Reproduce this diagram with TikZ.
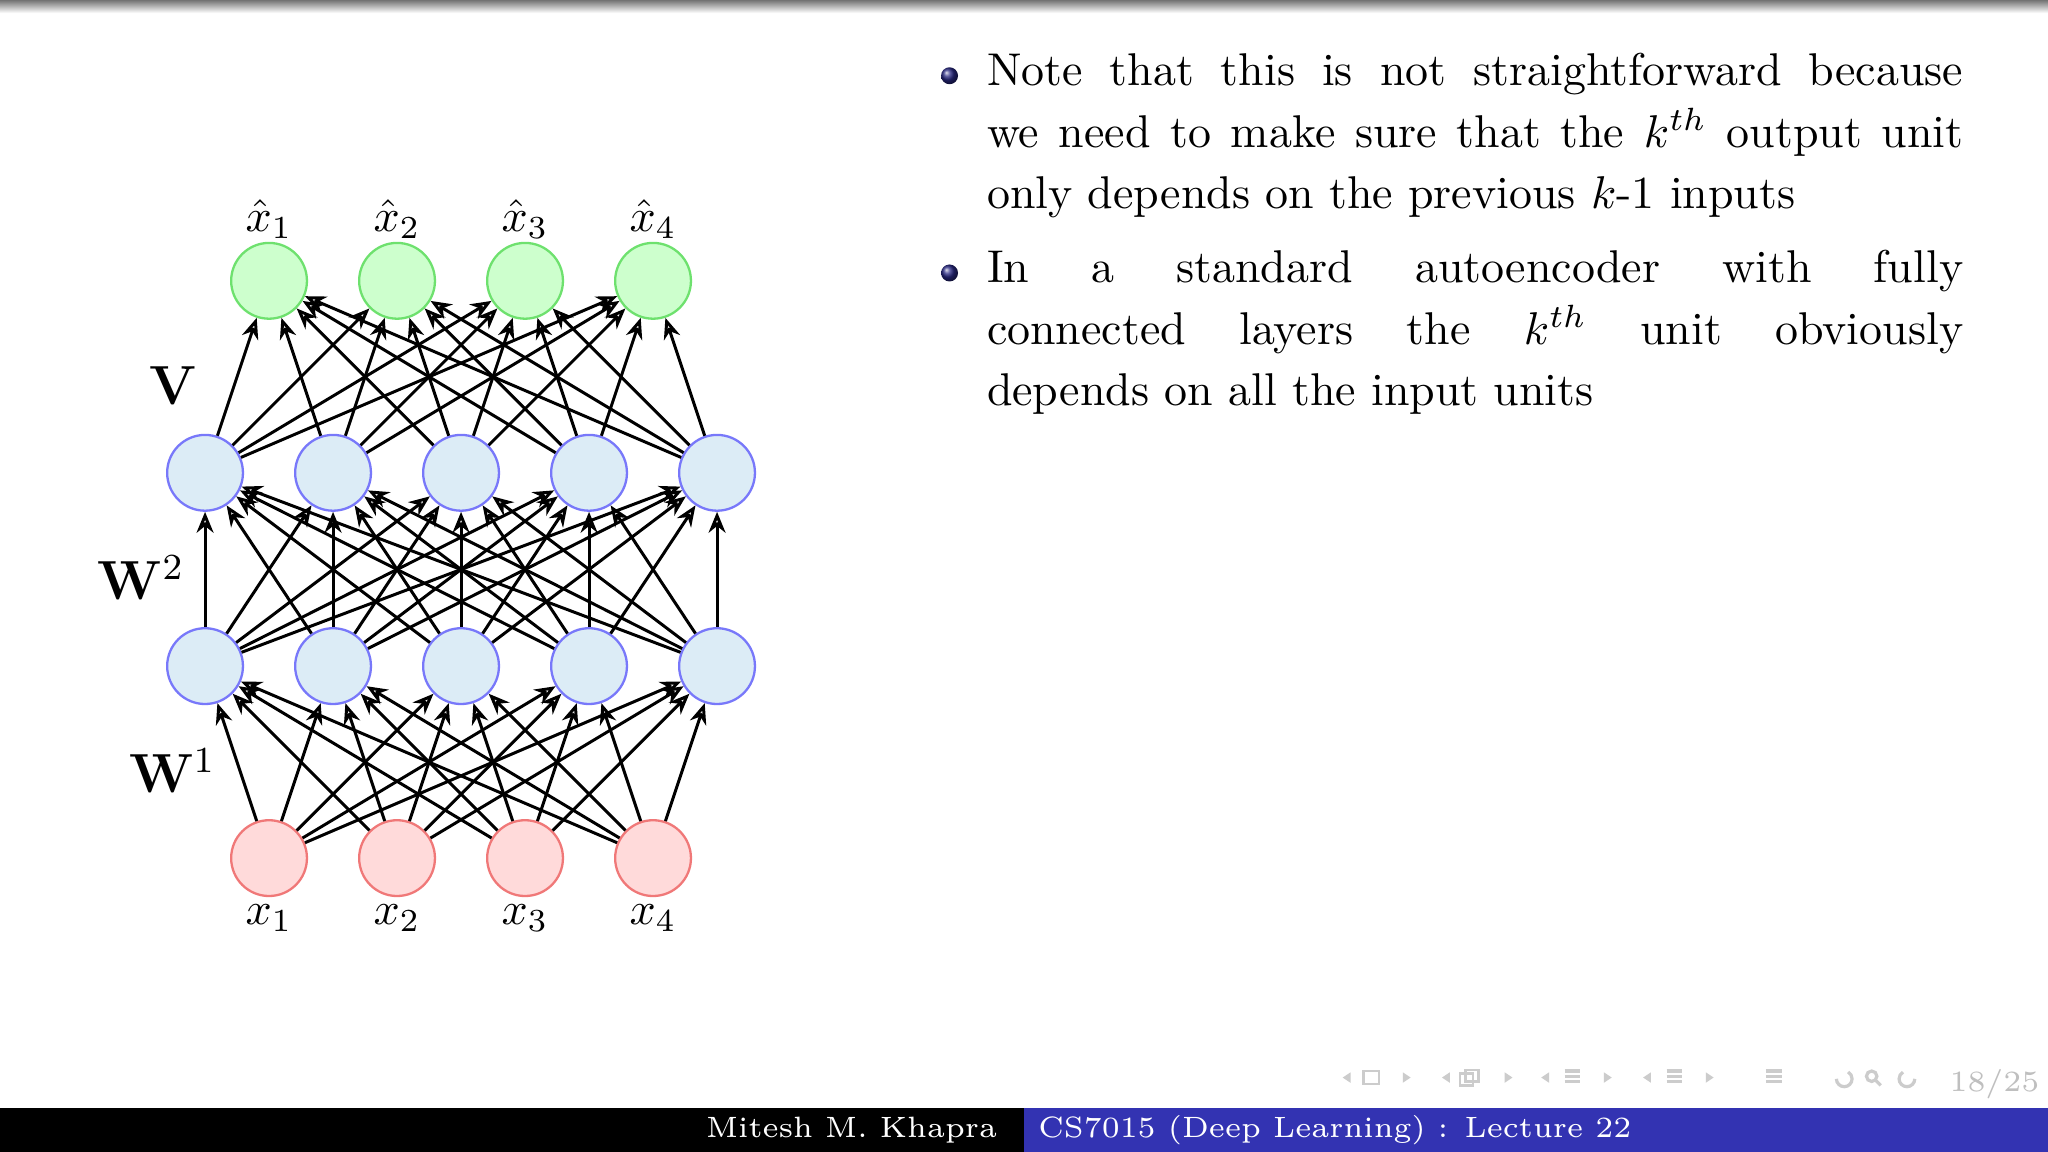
\documentclass[tikz,border=0pt]{standalone}
\usepackage{amsmath,amssymb}
\usetikzlibrary{arrows.meta,shadings}
\definecolor{bluebar}{RGB}{51,51,178}
\definecolor{ballblue}{RGB}{40,40,130}
\tikzset{
 unit/.style={circle,minimum size=0.58cm,inner sep=0pt,line width=0.5pt},
 outu/.style={unit,draw={rgb,255:red,110;green,225;blue,110},fill={rgb,255:red,205;green,255;blue,205}},
 hidu/.style={unit,draw={rgb,255:red,120;green,120;blue,250},fill={rgb,255:red,220;green,236;blue,246}},
 inu/.style={unit,draw={rgb,255:red,240;green,120;blue,120},fill={rgb,255:red,255;green,218;blue,218}},
 conn/.style={-{Stealth[length=1.6mm,width=1.3mm,open]},line width=0.65pt},
 lbl/.style={font=\fontsize{10}{12}\selectfont},
 navg/.style={fill=black!20,draw=none},
 body/.style={anchor=north west,inner sep=0pt,text width=7.47cm,align=justify,font=\fontsize{10}{13.4}\selectfont},
}
\begin{document}
\begin{tikzpicture}[x=0.01cm,y=-0.01cm]
\useasboundingbox (0,0) rectangle (1568,882);
\fill[white] (0,0) rectangle (1568,882);
\shade[top color=black!55,bottom color=white] (0,0) rectangle (1568,10);
% nodes
\foreach \i/\x in {1/206,2/304,3/402,4/500}{
  \node[outu] (o\i) at (\x,215) {};
  \node[inu] (i\i) at (\x,657) {};
  \node[lbl] (lo\i) at (\x,168) {$\hat{x}_\i$};
  \node[lbl] (li\i) at (\x,703) {$x_\i$};
}
\foreach \i/\x in {1/157,2/255,3/353,4/451,5/549}{
  \node[hidu] (a\i) at (\x,362) {};
  \node[hidu] (b\i) at (\x,510) {};
}
\foreach \s in {1,...,4}{\foreach \t in {1,...,5}{\draw[conn] (i\s) -- (b\t);}}
\foreach \s in {1,...,5}{\foreach \t in {1,...,5}{\draw[conn] (b\s) -- (a\t);}}
\foreach \s in {1,...,5}{\foreach \t in {1,...,4}{\draw[conn] (a\s) -- (o\t);}}
\node[font=\fontsize{12}{14}\selectfont] (lV) at (133,295) {$\mathbf{V}$};
\node[font=\fontsize{12}{14}\selectfont] (lW2) at (108,442) {$\mathbf{W}^2$};
\node[font=\fontsize{12}{14}\selectfont] (lW1) at (132,590) {$\mathbf{W}^1$};
% bullets
\shade[ball color=ballblue] (727,58) circle (6.5);
\shade[ball color=ballblue] (727,209) circle (6.5);
\node[body] (t1) at (755,40)
 {Note that this is not straightforward because\linebreak we need to make sure that the $k^{th}$ output unit\linebreak only depends on the previous $k$-1 inputs};
\node[body] (t2) at (755,191)
 {In a standard autoencoder with fully\linebreak connected layers the $k^{th}$ unit obviously\linebreak depends on all the input units};
% footer
\fill[black] (0,848) rectangle (784,882);
\fill[bluebar] (784,848) rectangle (1568,882);
\node[white,font=\fontsize{6.4}{8}\selectfont] (f1) at (652,865) {Mitesh M. Khapra};
\node[white,font=\fontsize{6.4}{8}\selectfont] (f2) at (1022,865) {CS7015 (Deep Learning) : Lecture 22};
\node[black!25,font=\fontsize{6.4}{8}\selectfont] (pg) at (1527,830) {18/25};
% navigation symbols
\foreach \x in {1028,1104,1180,1258}{\fill[navg] (\x,825)--(\x+6,821)--(\x+6,829)--cycle;}
\foreach \x in {1074,1152,1228,1306}{\fill[navg] (\x,821)--(\x+6,825)--(\x,829)--cycle;}
\draw[black!20,line width=0.5pt] (1044,820) rectangle (1056,830);
\draw[black!20,line width=0.5pt] (1118,822) rectangle (1128,831) (1122,819) rectangle (1132,828);
\foreach \x in {1198,1276,1352}{\foreach \d in {0,4,8}{\draw[black!20,line width=0.7pt] (\x,820+\d) -- (\x+12,820+\d);}}
\draw[black!20,line width=0.7pt] (1406,826) arc (180:-60:6);
\draw[black!20,line width=0.7pt] (1433,824) circle (4) (1436,827) -- (1440,831);
\draw[black!20,line width=0.7pt] (1466,826) arc (0:240:6);
\end{tikzpicture}
\end{document}
